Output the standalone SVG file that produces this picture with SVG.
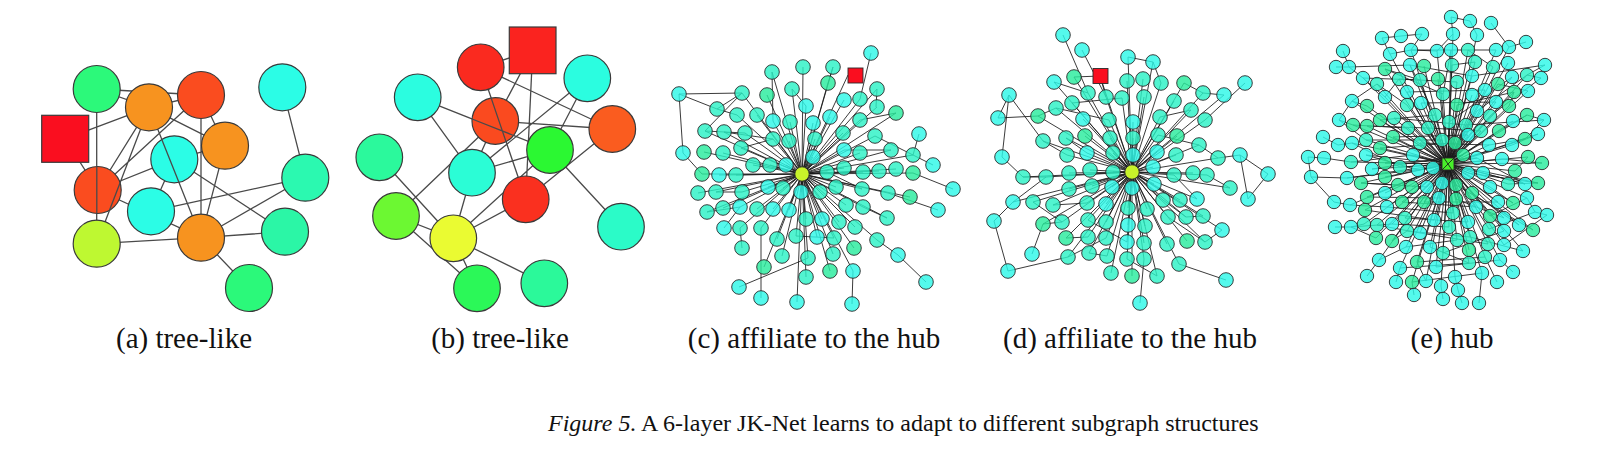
<svg xmlns="http://www.w3.org/2000/svg" width="1624" height="450" viewBox="0 0 1624 450">
<style>
.e{stroke:#4a4a4a;stroke-width:1.3;fill:none}
.ed{stroke:#1a1a1a;stroke-width:0.95;fill:none;stroke-opacity:0.9}
.big{stroke:#3a3a3a;stroke-width:1.2}
.sm circle{stroke:#2a2a2a;stroke-width:0.9;fill-opacity:0.82}
.c{fill:#2ef8e8}
.t{fill:#2cf2c6}
.g{fill:#2aeb9e}
.cap{font-family:"Liberation Serif","Times New Roman",serif;font-size:29px;fill:#111;text-anchor:middle}
.fig{font-family:"Liberation Serif","Times New Roman",serif;font-size:24px;fill:#111}
</style>
<rect width="1624" height="450" fill="#fff"/>

<!-- ================= (a) ================= -->
<g id="edges-a" class="e">
<path d="M96.7 89L201 95M96.7 89L149 107.3M96.7 89L96.7 243.7M65.2 138.8L149 107.3M65.2 138.8L97.7 190M149 107.3L201 95M149 107.3L97.7 190M149 107.3L96.7 243.7M201 95L97.7 190M149 107.3L225 145.7M201 95L201 237.7M201 95L225 145.7M149 107.3L201 237.7M97.7 190L174.3 159.3M97.7 190L201 237.7M174.3 159.3L151 211.3M174.3 159.3L225 145.7M225 145.7L201 237.7M174.3 159.3L285 231.7M151 211.3L305.3 177.7M201 237.7L305.3 177.7M201 237.7L285 231.7M201 237.7L249 288M96.7 243.7L201 237.7M282.3 87.3L305.3 177.7"/>
</g>
<g id="a-n1"><circle class="big" cx="96.7" cy="89" r="23.5" fill="#2cf97a"/></g>
<g id="a-n2"><circle class="big" cx="149" cy="107.3" r="23.5" fill="#f7931f"/></g>
<g id="a-n3"><circle class="big" cx="201" cy="95" r="23.5" fill="#fa4c1f"/></g>
<g id="a-n4"><circle class="big" cx="282.3" cy="87.3" r="23.5" fill="#2bfde6"/></g>
<g id="a-sq"><rect class="big" x="41.7" y="115.3" width="47" height="47" fill="#fa0e1f"/></g>
<g id="a-n5"><circle class="big" cx="225" cy="145.7" r="23.5" fill="#f7931f"/></g>
<g id="a-n6"><circle class="big" cx="174.3" cy="159.3" r="23.5" fill="#2bfde6"/></g>
<g id="a-n7"><circle class="big" cx="97.7" cy="190" r="23.5" fill="#fa4c1f"/></g>
<g id="a-n8"><circle class="big" cx="305.3" cy="177.7" r="23.5" fill="#2bf9b0"/></g>
<g id="a-n9"><circle class="big" cx="151" cy="211.3" r="23.5" fill="#2bfde6"/></g>
<g id="a-n10"><circle class="big" cx="96.7" cy="243.7" r="23.5" fill="#bef831"/></g>
<g id="a-n11"><circle class="big" cx="201" cy="237.7" r="23.5" fill="#f7931f"/></g>
<g id="a-n12"><circle class="big" cx="285" cy="231.7" r="23.5" fill="#2bf6a6"/></g>
<g id="a-n13"><circle class="big" cx="249" cy="288" r="23.5" fill="#2bf97a"/></g>
<g id="edges-a-over" class="e">
<path d="M96.8 166.5L96.8 213.5M120.1 182.7L109.5 210.3M161.8 139.4L178.9 182.3"/>
</g>

<!-- ================= (b) ================= -->
<g id="edges-b" class="e">
<path d="M480.7 67.3L532.7 50.3M480.7 67.3L612.3 129M480.7 67.3L525.7 199.3M532.7 50.3L495.3 121M532.7 50.3L525.7 199.3M417.7 97.3L550 150M417.7 97.3L472 172.7M495.3 121L612.3 129M495.3 121L472 172.7M495.3 121L396 216M587.3 78.3L472 172.7M587.3 78.3L550 150M472 172.7L550 150M612.3 129L525.7 199.3M550 150L621 226.7M379.3 157.3L453.3 238.3M396 216L453.3 238.3M396 216L477 288.3M472 172.7L453.3 238.3M453.3 238.3L525.7 199.3M453.3 238.3L550 150M453.3 238.3L477 288.3M453.3 238.3L544.3 283.3"/>
</g>
<g id="b-n1"><circle class="big" cx="480.7" cy="67.3" r="23.3" fill="#fa2a1f"/></g>
<g id="b-sq"><rect class="big" x="509.3" y="27" width="46.7" height="46.7" fill="#fa231f"/></g>
<g id="b-n2"><circle class="big" cx="587.3" cy="78.3" r="23.3" fill="#2bfde0"/></g>
<g id="b-n3"><circle class="big" cx="417.7" cy="97.3" r="23.3" fill="#2bfde0"/></g>
<g id="b-n4"><circle class="big" cx="495.3" cy="121" r="23.3" fill="#fa4a1f"/></g>
<g id="b-n5"><circle class="big" cx="612.3" cy="129" r="23.3" fill="#fa5c1f"/></g>
<g id="b-n6"><circle class="big" cx="550" cy="150" r="23.3" fill="#2bf832"/></g>
<g id="b-n7"><circle class="big" cx="379.3" cy="157.3" r="23.3" fill="#2bf99c"/></g>
<g id="b-n8"><circle class="big" cx="472" cy="172.7" r="23.3" fill="#2bfdd6"/></g>
<g id="b-n9"><circle class="big" cx="525.7" cy="199.3" r="23.3" fill="#fa301f"/></g>
<g id="b-n10"><circle class="big" cx="396" cy="216" r="23.3" fill="#6cf832"/></g>
<g id="b-n11"><circle class="big" cx="621" cy="226.7" r="23.3" fill="#2bfbc8"/></g>
<g id="b-n12"><circle class="big" cx="453.3" cy="238.3" r="23.3" fill="#eafb32"/></g>
<g id="b-n13"><circle class="big" cx="477" cy="288.3" r="23.3" fill="#2bf858"/></g>
<g id="b-n14"><circle class="big" cx="544.3" cy="283.3" r="23.3" fill="#2bf99a"/></g>
<g id="edges-b-over" class="e">
<path d="M491.2 98.1L506 141.6M472.1 119L513.6 135.5"/>
</g>

<!-- ================= (c) ================= -->
<g id="edges-c" class="ed">
<path d="M802 174L772 72M802 174L803 67M802 174L833 67M802 174L828 83M802 174L877 89M802 174L742 93M802 174L767 95M802 174L792 89M802 174L844 100M802 174L860 99M802 174L806 106M802 174L877 107M802 174L896 113M802 174L737 115M802 174L757 115M802 174L773 121M802 174L790 122M802 174L813 123M802 174L830 117M802 174L860 120M802 174L705 131M802 174L724 132M802 174L745 133M802 174L773 139M802 174L789 141M802 174L815 139M802 174L843 133M802 174L875 136M802 174L704 152M802 174L723 153M802 174L741 148M802 174L813 157M802 174L844 150M802 174L860 153M802 174L891 150M802 174L913 155M802 174L753 165M802 174L770 165M802 174L786 165M802 174L827 172M802 174L844 168M802 174L863 172M802 174L879 171M802 174L896 169M802 174L913 173M802 174L702 174M802 174L719 175M802 174L736 175M802 174L698 193M802 174L716 192M802 174L742 192M802 174L768 187M802 174L783 188M802 174L801 192M802 174L820 192M802 174L836 187M802 174L862 189M802 174L888 193M802 174L910 197M802 174L707 212M802 174L723 208M802 174L740 207M802 174L757 209M802 174L773 209M802 174L789 210M802 174L806 219M802 174L822 219M802 174L839 222M802 174L846 205M802 174L863 207M802 174L887 218M802 174L740 228M802 174L761 228M802 174L777 239M802 174L796 236M802 174L817 237M802 174L834 238M802 174L855 227M802 174L877 240M802 174L782 256M802 174L808 258M802 174L833 254M802 174L854 248M802 174L764 267M802 174L806 277M802 174L830 271M802 174L853 271M802 174L797 302M802 174L848 75"/>
<path d="M679 94L742 93M679 94L717 109M717 109L742 93M679 94L683 153M683 153L702 174M871 53L860 99M919 134L913 155M933 165L913 155M724 228L740 207M742 248L740 228M739 287L808 258M761 298L761 228M852 304L853 271M926 282L898 255M898 255L877 240M938 210L888 193M953 189L913 173M705 131L742 93M717 109L737 115M772 72L773 121M833 67L828 83M705 131L745 133M724 132L773 139M741 148L773 139M860 120L896 113M875 136L913 155M844 150L891 150M827 172L862 189M863 207L887 218M796 236L834 238M716 192L742 192M707 212L740 207M877 89L876 107M792 89L806 106"/>
</g>
<g id="c-nodes" class="sm">
<circle class="c" cx="871" cy="53" r="7.3"/><circle class="c" cx="679" cy="94" r="7.3"/><circle class="c" cx="844" cy="100" r="7.3"/><circle class="c" cx="806" cy="106" r="7.3"/><circle class="c" cx="773" cy="121" r="7.3"/><circle class="c" cx="813" cy="123" r="7.3"/><circle class="c" cx="830" cy="117" r="7.3"/><circle class="c" cx="919" cy="134" r="7.3"/><circle class="c" cx="683" cy="153" r="7.3"/><circle class="c" cx="844" cy="150" r="7.3"/><circle class="c" cx="933" cy="165" r="7.3"/><circle class="c" cx="786" cy="165" r="7.3"/><circle class="c" cx="719" cy="175" r="7.3"/><circle class="c" cx="768" cy="187" r="7.3"/><circle class="c" cx="801" cy="192" r="7.3"/><circle class="c" cx="938" cy="210" r="7.3"/><circle class="c" cx="740" cy="207" r="7.3"/><circle class="c" cx="773" cy="209" r="7.3"/><circle class="c" cx="789" cy="210" r="7.3"/><circle class="c" cx="822" cy="219" r="7.3"/><circle class="c" cx="724" cy="228" r="7.3"/><circle class="c" cx="817" cy="237" r="7.3"/><circle class="c" cx="898" cy="255" r="7.3"/><circle class="c" cx="853" cy="271" r="7.3"/><circle class="c" cx="926" cy="282" r="7.3"/><circle class="c" cx="739" cy="287" r="7.3"/><circle class="c" cx="761" cy="298" r="7.3"/><circle class="c" cx="797" cy="302" r="7.3"/><circle class="c" cx="852" cy="304" r="7.3"/><circle class="c" cx="953" cy="189" r="7.3"/><circle class="c" cx="813" cy="157" r="7.3"/>
<circle class="t" cx="772" cy="72" r="7.3"/><circle class="t" cx="803" cy="67" r="7.3"/><circle class="t" cx="833" cy="67" r="7.3"/><circle class="t" cx="877" cy="89" r="7.3"/><circle class="t" cx="742" cy="93" r="7.3"/><circle class="t" cx="792" cy="89" r="7.3"/><circle class="t" cx="860" cy="99" r="7.3"/><circle class="t" cx="717" cy="109" r="7.3"/><circle class="t" cx="877" cy="107" r="7.3"/><circle class="t" cx="737" cy="115" r="7.3"/><circle class="t" cx="757" cy="115" r="7.3"/><circle class="t" cx="790" cy="122" r="7.3"/><circle class="t" cx="860" cy="120" r="7.3"/><circle class="t" cx="705" cy="131" r="7.3"/><circle class="t" cx="724" cy="132" r="7.3"/><circle class="t" cx="745" cy="133" r="7.3"/><circle class="t" cx="773" cy="139" r="7.3"/><circle class="t" cx="789" cy="141" r="7.3"/><circle class="t" cx="815" cy="139" r="7.3"/><circle class="t" cx="843" cy="133" r="7.3"/><circle class="t" cx="875" cy="136" r="7.3"/><circle class="t" cx="723" cy="153" r="7.3"/><circle class="t" cx="741" cy="148" r="7.3"/><circle class="t" cx="860" cy="153" r="7.3"/><circle class="t" cx="891" cy="150" r="7.3"/><circle class="t" cx="913" cy="155" r="7.3"/><circle class="t" cx="753" cy="165" r="7.3"/><circle class="t" cx="770" cy="165" r="7.3"/><circle class="t" cx="827" cy="172" r="7.3"/><circle class="t" cx="844" cy="168" r="7.3"/><circle class="t" cx="863" cy="172" r="7.3"/><circle class="t" cx="879" cy="171" r="7.3"/><circle class="t" cx="896" cy="169" r="7.3"/><circle class="t" cx="736" cy="175" r="7.3"/><circle class="t" cx="698" cy="193" r="7.3"/><circle class="t" cx="716" cy="192" r="7.3"/><circle class="t" cx="742" cy="192" r="7.3"/><circle class="t" cx="783" cy="188" r="7.3"/><circle class="t" cx="820" cy="192" r="7.3"/><circle class="t" cx="836" cy="187" r="7.3"/><circle class="t" cx="862" cy="189" r="7.3"/><circle class="t" cx="888" cy="193" r="7.3"/><circle class="t" cx="707" cy="212" r="7.3"/><circle class="t" cx="723" cy="208" r="7.3"/><circle class="t" cx="757" cy="209" r="7.3"/><circle class="t" cx="806" cy="219" r="7.3"/><circle class="t" cx="839" cy="222" r="7.3"/><circle class="t" cx="846" cy="205" r="7.3"/><circle class="t" cx="863" cy="207" r="7.3"/><circle class="t" cx="887" cy="218" r="7.3"/><circle class="t" cx="740" cy="228" r="7.3"/><circle class="t" cx="761" cy="228" r="7.3"/><circle class="t" cx="777" cy="239" r="7.3"/><circle class="t" cx="796" cy="236" r="7.3"/><circle class="t" cx="834" cy="238" r="7.3"/><circle class="t" cx="855" cy="227" r="7.3"/><circle class="t" cx="877" cy="240" r="7.3"/><circle class="t" cx="742" cy="248" r="7.3"/><circle class="t" cx="782" cy="256" r="7.3"/><circle class="t" cx="808" cy="258" r="7.3"/><circle class="t" cx="833" cy="254" r="7.3"/><circle class="t" cx="806" cy="277" r="7.3"/>
<circle class="g" cx="828" cy="83" r="7.3"/><circle class="g" cx="767" cy="95" r="7.3"/><circle class="g" cx="896" cy="113" r="7.3"/><circle class="g" cx="704" cy="152" r="7.3"/><circle class="g" cx="913" cy="173" r="7.3"/><circle class="g" cx="702" cy="174" r="7.3"/><circle class="g" cx="910" cy="197" r="7.3"/><circle class="g" cx="854" cy="248" r="7.3"/><circle class="g" cx="764" cy="267" r="7.3"/><circle class="g" cx="830" cy="271" r="7.3"/>
</g>
<g id="c-hub"><circle cx="802" cy="174" r="7.2" fill="#c8f22a" stroke="#2a2a2a" stroke-width="0.9"/></g>
<g id="c-sq"><rect x="848" y="68" width="15" height="15" fill="#fa0e1f" stroke="#2a2a2a" stroke-width="0.9"/></g>

<!-- ================= (d) ================= -->
<g id="edges-d" class="ed">
<path d="M1132 172L1128 57M1132 172L1153 62M1132 172L1054 82M1132 172L1083 119M1132 172L1133 122M1132 172L1087 153M1132 172L1133 155M1132 172L1157 152M1132 172L1153 167M1132 172L1112 187M1132 172L1132 188M1132 172L1154 184M1132 172L1013 202M1132 172L1106 204M1132 172L1197 199M1132 172L1128 225M1132 172L1127 242M1132 172L1224 95M1132 172L1222 230M1132 172L1127 81M1132 172L1143 79M1132 172L1161 83M1132 172L1203 93M1132 172L1088 93M1132 172L1106 97M1132 172L1122 98M1132 172L1144 97M1132 172L1174 101M1132 172L1191 110M1132 172L1205 120M1132 172L1056 108M1132 172L1072 103M1132 172L1109 120M1132 172L1160 117M1132 172L1043 141M1132 172L1066 138M1132 172L1110 138M1132 172L1133 138M1132 172L1158 135M1132 172L1199 145M1132 172L1067 155M1132 172L1113 153M1132 172L1176 155M1132 172L1023 177M1132 172L1046 177M1132 172L1069 173M1132 172L1090 170M1132 172L1113 172M1132 172L1174 175M1132 172L1193 173M1132 172L1207 175M1132 172L1069 189M1132 172L1092 186M1132 172L1033 202M1132 172L1053 205M1132 172L1087 203M1132 172L1128 208M1132 172L1147 209M1132 172L1163 200M1132 172L1180 200M1132 172L1062 222M1132 172L1088 220M1132 172L1106 222M1132 172L1145 226M1132 172L1168 217M1132 172L1186 217M1132 172L1203 216M1132 172L1088 237M1132 172L1106 238M1132 172L1144 243M1132 172L1167 244M1132 172L1205 242M1132 172L1068 257M1132 172L1089 253M1132 172L1107 256M1132 172L1127 259M1132 172L1144 259M1132 172L1179 264M1132 172L1111 273M1132 172L1157 276M1132 172L1218 158M1132 172L1230 188M1132 172L1074 77M1132 172L1184 83M1132 172L1038 116M1132 172L1085 136M1132 172L1177 136M1132 172L1043 224M1132 172L1066 238M1132 172L1187 241M1132 172L1132 276M1132 172L1100 76"/>
<path d="M1063 35L1088 93M1082 50L1106 97M1128 57L1153 62M1153 62L1161 83M1009 95L998 118M1009 95L1043 141M998 118L1038 116M1009 95L1002 157M1002 157L1023 177M994 221L1013 202M994 221L1008 271M1008 271L1068 257M1032 254L1043 224M1140 303L1144 259M1179 264L1226 280M1245 83L1205 120M1240 155L1268 174M1268 174L1248 199M1240 155L1248 199M1240 155L1218 158M1224 95L1203 93M1222 230L1205 242M1230 188L1207 175M1100 76L1074 77M1100 76L1106 97M1054 82L1088 93M1038 116L1056 108M1043 141L1067 155M1066 138L1087 153M1023 177L1046 177M1013 202L1046 177M1033 202L1062 222M1053 205L1087 203M1043 224L1062 222M1066 238L1088 237M1089 253L1107 256M1127 259L1157 276M1168 217L1205 242M1186 217L1203 216M1199 145L1218 158M1184 83L1203 93M1056 108L1109 120M1072 103L1122 98M1160 117L1191 110M1158 135L1199 145M1174 175L1197 199M1163 200L1186 217M1088 220L1127 242M1068 257L1106 238"/>
</g>
<g id="d-nodes" class="sm">
<circle class="c" cx="1063" cy="35" r="7.3"/><circle class="c" cx="1082" cy="50" r="7.3"/><circle class="c" cx="1128" cy="57" r="7.3"/><circle class="c" cx="1153" cy="62" r="7.3"/><circle class="c" cx="1054" cy="82" r="7.3"/><circle class="c" cx="1009" cy="95" r="7.3"/><circle class="c" cx="998" cy="118" r="7.3"/><circle class="c" cx="1083" cy="119" r="7.3"/><circle class="c" cx="1133" cy="122" r="7.3"/><circle class="c" cx="1002" cy="157" r="7.3"/><circle class="c" cx="1087" cy="153" r="7.3"/><circle class="c" cx="1133" cy="155" r="7.3"/><circle class="c" cx="1157" cy="152" r="7.3"/><circle class="c" cx="1153" cy="167" r="7.3"/><circle class="c" cx="1112" cy="187" r="7.3"/><circle class="c" cx="1132" cy="188" r="7.3"/><circle class="c" cx="1154" cy="184" r="7.3"/><circle class="c" cx="1013" cy="202" r="7.3"/><circle class="c" cx="1106" cy="204" r="7.3"/><circle class="c" cx="1197" cy="199" r="7.3"/><circle class="c" cx="994" cy="221" r="7.3"/><circle class="c" cx="1128" cy="225" r="7.3"/><circle class="c" cx="1127" cy="242" r="7.3"/><circle class="c" cx="1032" cy="254" r="7.3"/><circle class="c" cx="1008" cy="271" r="7.3"/><circle class="c" cx="1140" cy="303" r="7.3"/><circle class="c" cx="1245" cy="83" r="7.3"/><circle class="c" cx="1240" cy="155" r="7.3"/><circle class="c" cx="1268" cy="174" r="7.3"/><circle class="c" cx="1248" cy="199" r="7.3"/><circle class="c" cx="1224" cy="95" r="7.3"/><circle class="c" cx="1222" cy="230" r="7.3"/><circle class="c" cx="1226" cy="280" r="7.3"/>
<circle class="t" cx="1127" cy="81" r="7.3"/><circle class="t" cx="1143" cy="79" r="7.3"/><circle class="t" cx="1161" cy="83" r="7.3"/><circle class="t" cx="1203" cy="93" r="7.3"/><circle class="t" cx="1088" cy="93" r="7.3"/><circle class="t" cx="1106" cy="97" r="7.3"/><circle class="t" cx="1122" cy="98" r="7.3"/><circle class="t" cx="1144" cy="97" r="7.3"/><circle class="t" cx="1174" cy="101" r="7.3"/><circle class="t" cx="1191" cy="110" r="7.3"/><circle class="t" cx="1205" cy="120" r="7.3"/><circle class="t" cx="1056" cy="108" r="7.3"/><circle class="t" cx="1072" cy="103" r="7.3"/><circle class="t" cx="1109" cy="120" r="7.3"/><circle class="t" cx="1160" cy="117" r="7.3"/><circle class="t" cx="1043" cy="141" r="7.3"/><circle class="t" cx="1066" cy="138" r="7.3"/><circle class="t" cx="1110" cy="138" r="7.3"/><circle class="t" cx="1133" cy="138" r="7.3"/><circle class="t" cx="1158" cy="135" r="7.3"/><circle class="t" cx="1199" cy="145" r="7.3"/><circle class="t" cx="1067" cy="155" r="7.3"/><circle class="t" cx="1113" cy="153" r="7.3"/><circle class="t" cx="1176" cy="155" r="7.3"/><circle class="t" cx="1023" cy="177" r="7.3"/><circle class="t" cx="1046" cy="177" r="7.3"/><circle class="t" cx="1069" cy="173" r="7.3"/><circle class="t" cx="1090" cy="170" r="7.3"/><circle class="t" cx="1113" cy="172" r="7.3"/><circle class="t" cx="1174" cy="175" r="7.3"/><circle class="t" cx="1193" cy="173" r="7.3"/><circle class="t" cx="1207" cy="175" r="7.3"/><circle class="t" cx="1069" cy="189" r="7.3"/><circle class="t" cx="1092" cy="186" r="7.3"/><circle class="t" cx="1033" cy="202" r="7.3"/><circle class="t" cx="1053" cy="205" r="7.3"/><circle class="t" cx="1087" cy="203" r="7.3"/><circle class="t" cx="1128" cy="208" r="7.3"/><circle class="t" cx="1147" cy="209" r="7.3"/><circle class="t" cx="1163" cy="200" r="7.3"/><circle class="t" cx="1180" cy="200" r="7.3"/><circle class="t" cx="1062" cy="222" r="7.3"/><circle class="t" cx="1088" cy="220" r="7.3"/><circle class="t" cx="1106" cy="222" r="7.3"/><circle class="t" cx="1145" cy="226" r="7.3"/><circle class="t" cx="1168" cy="217" r="7.3"/><circle class="t" cx="1186" cy="217" r="7.3"/><circle class="t" cx="1203" cy="216" r="7.3"/><circle class="t" cx="1088" cy="237" r="7.3"/><circle class="t" cx="1106" cy="238" r="7.3"/><circle class="t" cx="1144" cy="243" r="7.3"/><circle class="t" cx="1167" cy="244" r="7.3"/><circle class="t" cx="1205" cy="242" r="7.3"/><circle class="t" cx="1068" cy="257" r="7.3"/><circle class="t" cx="1089" cy="253" r="7.3"/><circle class="t" cx="1107" cy="256" r="7.3"/><circle class="t" cx="1127" cy="259" r="7.3"/><circle class="t" cx="1144" cy="259" r="7.3"/><circle class="t" cx="1179" cy="264" r="7.3"/><circle class="t" cx="1111" cy="273" r="7.3"/><circle class="t" cx="1157" cy="276" r="7.3"/><circle class="t" cx="1218" cy="158" r="7.3"/><circle class="t" cx="1230" cy="188" r="7.3"/>
<circle class="g" cx="1074" cy="77" r="7.3"/><circle class="g" cx="1184" cy="83" r="7.3"/><circle class="g" cx="1038" cy="116" r="7.3"/><circle class="g" cx="1085" cy="136" r="7.3"/><circle class="g" cx="1177" cy="136" r="7.3"/><circle class="g" cx="1043" cy="224" r="7.3"/><circle class="g" cx="1066" cy="238" r="7.3"/><circle class="g" cx="1187" cy="241" r="7.3"/><circle class="g" cx="1132" cy="276" r="7.3"/>
</g>
<g id="d-hub"><circle cx="1132" cy="172" r="7.2" fill="#c8f22a" stroke="#2a2a2a" stroke-width="0.9"/></g>
<g id="d-sq"><rect x="1093" y="68.5" width="15" height="15" fill="#fa0e1f" stroke="#2a2a2a" stroke-width="0.9"/></g>

<!-- ================= (e) ================= -->
<g id="edges-e" class="ed">
<path d="M1448 164L1453 34M1448 164L1477 35M1448 164L1390 54M1448 164L1411 50M1448 164L1437 51M1448 164L1451 50M1448 164L1468 50M1448 164L1496 50M1448 164L1509 47M1448 164L1385 69M1448 164L1410 65M1448 164L1424 66M1448 164L1452 65M1448 164L1475 62M1448 164L1493 67M1448 164L1508 63M1448 164L1363 78M1448 164L1377 84M1448 164L1399 79M1448 164L1420 80M1448 164L1438 79M1448 164L1457 82M1448 164L1472 76M1448 164L1498 84M1448 164L1512 77M1448 164L1527 75M1448 164L1352 101M1448 164L1385 97M1448 164L1407 92M1448 164L1421 103M1448 164L1443 94M1448 164L1457 105M1448 164L1472 95M1448 164L1485 90M1448 164L1496 102M1448 164L1514 92M1448 164L1528 91M1448 164L1367 106M1448 164L1407 105M1448 164L1353 125M1448 164L1380 120M1448 164L1394 118M1448 164L1435 115M1448 164L1449 122M1448 164L1466 125M1448 164L1477 111M1448 164L1490 116M1448 164L1509 106M1448 164L1513 121M1448 164L1527 115M1448 164L1352 143M1448 164L1367 126M1448 164L1366 140M1448 164L1380 148M1448 164L1393 137M1448 164L1408 128M1448 164L1420 143M1448 164L1428 128M1448 164L1442 140M1448 164L1455 143M1448 164L1468 135M1448 164L1481 131M1448 164L1489 145M1448 164L1499 131M1448 164L1512 145M1448 164L1525 139M1448 164L1538 134M1448 164L1351 162M1448 164L1366 155M1448 164L1385 163M1448 164L1400 167M1448 164L1413 155M1448 164L1418 170M1448 164L1433 168M1448 164L1463 155M1448 164L1477 158M1448 164L1502 159M1448 164L1528 157M1448 164L1542 163M1448 164L1347 178M1448 164L1361 183M1448 164L1372 169M1448 164L1385 177M1448 164L1468 173M1448 164L1483 173M1448 164L1515 171M1448 164L1538 183M1448 164L1525 184M1448 164L1508 184M1448 164L1490 187M1448 164L1442 183M1448 164L1456 185M1448 164L1472 193M1448 164L1427 187M1448 164L1412 187M1448 164L1398 185M1448 164L1385 193M1448 164L1367 197M1448 164L1350 205M1448 164L1365 210M1448 164L1387 207M1448 164L1402 202M1448 164L1424 202M1448 164L1439 198M1448 164L1456 199M1448 164L1476 207M1448 164L1498 202M1448 164L1513 203M1448 164L1527 198M1448 164L1364 224M1448 164L1377 225M1448 164L1392 224M1448 164L1405 218M1448 164L1434 220M1448 164L1453 213M1448 164L1468 222M1448 164L1490 216M1448 164L1504 218M1448 164L1519 225M1448 164L1533 230M1448 164L1376 238M1448 164L1392 241M1448 164L1407 231M1448 164L1420 233M1448 164L1449 227M1448 164L1470 237M1448 164L1489 229M1448 164L1504 231M1448 164L1406 247M1448 164L1430 247M1448 164L1443 253M1448 164L1457 240M1448 164L1469 250M1448 164L1488 244M1448 164L1504 245M1448 164L1523 251M1448 164L1379 260M1448 164L1417 262M1448 164L1436 267M1448 164L1469 263M1448 164L1485 257M1448 164L1500 260M1448 164L1400 268M1448 164L1412 282M1448 164L1426 281M1448 164L1441 286M1448 164L1455 277M1448 164L1482 273"/>
<path d="M1451 17L1453 34M1470 21L1477 35M1491 23L1509 47M1382 38L1401 36M1401 36L1422 34M1382 38L1390 54M1422 34L1411 50M1526 42L1509 47M1343 51L1349 67M1336 67L1349 67M1349 67L1363 78M1545 65L1527 75M1541 78L1527 75M1544 120L1527 115M1308 157L1324 158M1308 157L1311 177M1324 158L1351 162M1311 177L1347 178M1334 202L1350 205M1335 227L1351 227M1351 227L1364 224M1367 276L1379 260M1396 282L1400 268M1414 295L1412 282M1443 299L1441 286M1462 303L1458 290M1479 303L1482 273M1458 290L1455 277M1497 282L1485 257M1513 272L1500 260M1547 215L1535 212M1535 212L1527 198M1339 120L1353 125M1323 137L1338 145M1338 145L1352 143M1339 120L1352 101M1390 54L1411 50M1411 50L1437 51M1349 67L1410 65M1363 78L1420 80M1377 84L1352 101M1352 101L1367 106M1385 97L1399 79M1472 76L1545 65M1498 84L1528 91M1514 92L1509 106M1367 126L1428 128M1380 120L1435 115M1339 120L1366 140M1352 143L1400 167M1347 178L1433 168M1361 183L1398 185M1350 205L1387 207M1351 227L1392 224M1377 225L1420 233M1392 241L1407 231M1430 247L1469 263M1443 253L1504 231M1470 237L1523 251M1489 229L1535 212M1504 245L1547 215M1490 216L1527 198M1512 145L1538 134M1525 139L1544 120M1499 131L1527 115M1502 159L1542 163M1508 184L1538 183M1515 171L1528 157M1477 158L1525 184M1489 145L1525 139M1426 281L1417 262M1406 247L1379 260M1376 238L1351 227M1411 50L1496 50M1385 69L1420 80M1451 17L1470 21M1334 202L1311 177"/>
<path d="M1385 69L1443 94M1410 65L1472 76M1399 79L1457 82M1421 103L1496 102M1407 92L1485 90M1363 78L1385 97M1377 84L1407 105M1394 118L1466 125M1353 125L1408 128M1366 140L1442 140M1380 148L1455 143M1393 137L1468 135M1420 143L1489 145M1428 128L1481 131M1351 162L1413 155M1366 155L1418 170M1385 163L1477 158M1372 169L1463 155M1361 183L1427 187M1367 197L1439 198M1365 210L1434 220M1387 207L1453 213M1402 202L1476 207M1424 202L1498 202M1405 218L1468 222M1392 224L1449 227M1407 231L1470 237M1420 233L1488 244M1406 247L1457 240M1417 262L1485 257M1436 267L1500 260M1400 268L1469 263M1412 282L1482 273M1468 173L1538 183M1483 173L1525 184M1490 187L1513 203M1472 193L1519 225M1456 199L1504 218M1456 185L1533 230M1477 111L1527 75M1490 116L1541 78M1466 125L1544 120M1449 122L1512 77M1457 105L1514 92M1435 115L1410 65M1443 94L1451 50M1468 50L1493 67M1452 65L1475 62M1437 51L1453 34"/>
</g>
<g id="e-nodes" class="sm">
<circle class="c" cx="1451" cy="17" r="6.7"/><circle class="c" cx="1470" cy="21" r="6.7"/><circle class="c" cx="1491" cy="23" r="6.7"/><circle class="c" cx="1382" cy="38" r="6.7"/><circle class="c" cx="1401" cy="36" r="6.7"/><circle class="c" cx="1422" cy="34" r="6.7"/><circle class="c" cx="1453" cy="34" r="6.7"/><circle class="c" cx="1477" cy="35" r="6.7"/><circle class="c" cx="1526" cy="42" r="6.7"/>
<circle class="c" cx="1343" cy="51" r="6.7"/><circle class="c" cx="1390" cy="54" r="6.7"/><circle class="c" cx="1411" cy="50" r="6.7"/><circle class="c" cx="1437" cy="51" r="6.7"/><circle class="c" cx="1451" cy="50" r="6.7"/><circle class="t" cx="1468" cy="50" r="6.7"/><circle class="c" cx="1496" cy="50" r="6.7"/><circle class="c" cx="1509" cy="47" r="6.7"/>
<circle class="c" cx="1336" cy="67" r="6.7"/><circle class="c" cx="1349" cy="67" r="6.7"/><circle class="g" cx="1385" cy="69" r="6.7"/><circle class="c" cx="1410" cy="65" r="6.7"/><circle class="g" cx="1424" cy="66" r="6.7"/><circle class="t" cx="1452" cy="65" r="6.7"/><circle class="t" cx="1475" cy="62" r="6.7"/><circle class="t" cx="1493" cy="67" r="6.7"/><circle class="c" cx="1508" cy="63" r="6.7"/><circle class="c" cx="1545" cy="65" r="6.7"/>
<circle class="c" cx="1363" cy="78" r="6.7"/><circle class="t" cx="1377" cy="84" r="6.7"/><circle class="t" cx="1399" cy="79" r="6.7"/><circle class="t" cx="1420" cy="80" r="6.7"/><circle class="g" cx="1438" cy="79" r="6.7"/><circle class="t" cx="1457" cy="82" r="6.7"/><circle class="c" cx="1472" cy="76" r="6.7"/><circle class="g" cx="1498" cy="84" r="6.7"/><circle class="c" cx="1512" cy="77" r="6.7"/><circle class="t" cx="1527" cy="75" r="6.7"/><circle class="c" cx="1541" cy="78" r="6.7"/>
<circle class="c" cx="1352" cy="101" r="6.7"/><circle class="c" cx="1385" cy="97" r="6.7"/><circle class="c" cx="1407" cy="92" r="6.7"/><circle class="c" cx="1421" cy="103" r="6.7"/><circle class="t" cx="1443" cy="94" r="6.7"/><circle class="g" cx="1457" cy="105" r="6.7"/><circle class="c" cx="1472" cy="95" r="6.7"/><circle class="c" cx="1485" cy="90" r="6.7"/><circle class="c" cx="1496" cy="102" r="6.7"/><circle class="g" cx="1514" cy="92" r="6.7"/><circle class="c" cx="1528" cy="91" r="6.7"/>
<circle class="g" cx="1367" cy="106" r="6.7"/><circle class="t" cx="1407" cy="105" r="6.7"/>
<circle class="c" cx="1339" cy="120" r="6.7"/><circle class="g" cx="1353" cy="125" r="6.7"/><circle class="g" cx="1380" cy="120" r="6.7"/><circle class="t" cx="1394" cy="118" r="6.7"/><circle class="t" cx="1435" cy="115" r="6.7"/><circle class="t" cx="1449" cy="122" r="6.7"/><circle class="t" cx="1466" cy="125" r="6.7"/><circle class="c" cx="1477" cy="111" r="6.7"/><circle class="t" cx="1490" cy="116" r="6.7"/><circle class="g" cx="1509" cy="106" r="6.7"/><circle class="c" cx="1513" cy="121" r="6.7"/><circle class="g" cx="1527" cy="115" r="6.7"/><circle class="c" cx="1544" cy="120" r="6.7"/>
<circle class="c" cx="1323" cy="137" r="6.7"/><circle class="c" cx="1338" cy="145" r="6.7"/><circle class="c" cx="1352" cy="143" r="6.7"/><circle class="g" cx="1367" cy="126" r="6.7"/><circle class="t" cx="1366" cy="140" r="6.7"/><circle class="g" cx="1380" cy="148" r="6.7"/><circle class="g" cx="1393" cy="137" r="6.7"/><circle class="t" cx="1408" cy="128" r="6.7"/><circle class="t" cx="1420" cy="143" r="6.7"/><circle class="t" cx="1428" cy="128" r="6.7"/><circle class="t" cx="1442" cy="140" r="6.7"/><circle class="g" cx="1455" cy="143" r="6.7"/><circle class="c" cx="1468" cy="135" r="6.7"/><circle class="t" cx="1481" cy="131" r="6.7"/><circle class="c" cx="1489" cy="145" r="6.7"/><circle class="g" cx="1499" cy="131" r="6.7"/><circle class="c" cx="1512" cy="145" r="6.7"/><circle class="g" cx="1525" cy="139" r="6.7"/><circle class="c" cx="1538" cy="134" r="6.7"/>
<circle class="c" cx="1308" cy="157" r="6.7"/><circle class="c" cx="1324" cy="158" r="6.7"/><circle class="t" cx="1351" cy="162" r="6.7"/><circle class="c" cx="1366" cy="155" r="6.7"/><circle class="g" cx="1385" cy="163" r="6.7"/><circle class="t" cx="1400" cy="167" r="6.7"/><circle class="c" cx="1413" cy="155" r="6.7"/><circle class="c" cx="1418" cy="170" r="6.7"/><circle class="c" cx="1433" cy="168" r="6.7"/><circle class="g" cx="1463" cy="155" r="6.7"/><circle class="c" cx="1477" cy="158" r="6.7"/><circle class="c" cx="1502" cy="159" r="6.7"/><circle class="g" cx="1528" cy="157" r="6.7"/><circle class="g" cx="1542" cy="163" r="6.7"/>
<circle class="c" cx="1311" cy="177" r="6.7"/><circle class="c" cx="1347" cy="178" r="6.7"/><circle class="g" cx="1361" cy="183" r="6.7"/><circle class="c" cx="1372" cy="169" r="6.7"/><circle class="g" cx="1385" cy="177" r="6.7"/><circle class="c" cx="1468" cy="173" r="6.7"/><circle class="c" cx="1483" cy="173" r="6.7"/><circle class="g" cx="1515" cy="171" r="6.7"/><circle class="g" cx="1538" cy="183" r="6.7"/><circle class="c" cx="1525" cy="184" r="6.7"/><circle class="t" cx="1508" cy="184" r="6.7"/><circle class="c" cx="1490" cy="187" r="6.7"/><circle class="c" cx="1442" cy="183" r="6.7"/><circle class="g" cx="1456" cy="185" r="6.7"/><circle class="g" cx="1472" cy="193" r="6.7"/><circle class="c" cx="1427" cy="187" r="6.7"/><circle class="g" cx="1412" cy="187" r="6.7"/><circle class="g" cx="1398" cy="185" r="6.7"/><circle class="c" cx="1385" cy="193" r="6.7"/><circle class="g" cx="1367" cy="197" r="6.7"/>
<circle class="c" cx="1334" cy="202" r="6.7"/><circle class="c" cx="1350" cy="205" r="6.7"/><circle class="g" cx="1365" cy="210" r="6.7"/><circle class="c" cx="1387" cy="207" r="6.7"/><circle class="g" cx="1402" cy="202" r="6.7"/><circle class="g" cx="1424" cy="202" r="6.7"/><circle class="c" cx="1439" cy="198" r="6.7"/><circle class="g" cx="1456" cy="199" r="6.7"/><circle class="c" cx="1476" cy="207" r="6.7"/><circle class="c" cx="1498" cy="202" r="6.7"/><circle class="g" cx="1513" cy="203" r="6.7"/><circle class="c" cx="1527" cy="198" r="6.7"/><circle class="c" cx="1535" cy="212" r="6.7"/><circle class="c" cx="1547" cy="215" r="6.7"/>
<circle class="c" cx="1335" cy="227" r="6.7"/><circle class="c" cx="1351" cy="227" r="6.7"/><circle class="t" cx="1364" cy="224" r="6.7"/><circle class="t" cx="1377" cy="225" r="6.7"/><circle class="c" cx="1392" cy="224" r="6.7"/><circle class="t" cx="1405" cy="218" r="6.7"/><circle class="c" cx="1434" cy="220" r="6.7"/><circle class="t" cx="1453" cy="213" r="6.7"/><circle class="c" cx="1468" cy="222" r="6.7"/><circle class="g" cx="1490" cy="216" r="6.7"/><circle class="c" cx="1504" cy="218" r="6.7"/><circle class="c" cx="1519" cy="225" r="6.7"/><circle class="g" cx="1533" cy="230" r="6.7"/>
<circle class="g" cx="1376" cy="238" r="6.7"/><circle class="g" cx="1392" cy="241" r="6.7"/><circle class="t" cx="1407" cy="231" r="6.7"/><circle class="c" cx="1420" cy="233" r="6.7"/><circle class="t" cx="1449" cy="227" r="6.7"/><circle class="t" cx="1470" cy="237" r="6.7"/><circle class="t" cx="1489" cy="229" r="6.7"/><circle class="c" cx="1504" cy="231" r="6.7"/>
<circle class="c" cx="1406" cy="247" r="6.7"/><circle class="c" cx="1430" cy="247" r="6.7"/><circle class="t" cx="1443" cy="253" r="6.7"/><circle class="t" cx="1457" cy="240" r="6.7"/><circle class="g" cx="1469" cy="250" r="6.7"/><circle class="t" cx="1488" cy="244" r="6.7"/><circle class="c" cx="1504" cy="245" r="6.7"/><circle class="c" cx="1523" cy="251" r="6.7"/>
<circle class="c" cx="1379" cy="260" r="6.7"/><circle class="g" cx="1417" cy="262" r="6.7"/><circle class="c" cx="1436" cy="267" r="6.7"/><circle class="t" cx="1469" cy="263" r="6.7"/><circle class="t" cx="1485" cy="257" r="6.7"/><circle class="c" cx="1500" cy="260" r="6.7"/><circle class="c" cx="1400" cy="268" r="6.7"/>
<circle class="c" cx="1367" cy="276" r="6.7"/><circle class="c" cx="1396" cy="282" r="6.7"/><circle class="g" cx="1412" cy="282" r="6.7"/><circle class="c" cx="1426" cy="281" r="6.7"/><circle class="c" cx="1441" cy="286" r="6.7"/><circle class="c" cx="1455" cy="277" r="6.7"/><circle class="c" cx="1482" cy="273" r="6.7"/><circle class="c" cx="1497" cy="282" r="6.7"/><circle class="c" cx="1513" cy="272" r="6.7"/>
<circle class="c" cx="1414" cy="295" r="6.7"/><circle class="c" cx="1443" cy="299" r="6.7"/><circle class="c" cx="1458" cy="290" r="6.7"/><circle class="c" cx="1462" cy="303" r="6.7"/><circle class="c" cx="1479" cy="303" r="6.7"/>
</g>
<g id="e-hub"><rect x="1442" y="158" width="12" height="12" fill="#48f02a" stroke="#2a2a2a" stroke-width="0.9"/><path d="M1442 170L1454 158M1444 158L1452 170" class="ed"/></g>

<!-- ================= captions ================= -->
<g id="captions">
<text class="cap" x="184" y="348">(a) tree-like</text>
<text class="cap" x="500" y="348">(b) tree-like</text>
<text class="cap" x="814" y="348">(c) affiliate to the hub</text>
<text class="cap" x="1130" y="348">(d) affiliate to the hub</text>
<text class="cap" x="1452" y="348">(e) hub</text>
<text class="fig" x="548" y="431"><tspan font-style="italic">Figure 5.</tspan> A 6-layer JK-Net learns to adapt to different subgraph structures</text>
</g>
</svg>
